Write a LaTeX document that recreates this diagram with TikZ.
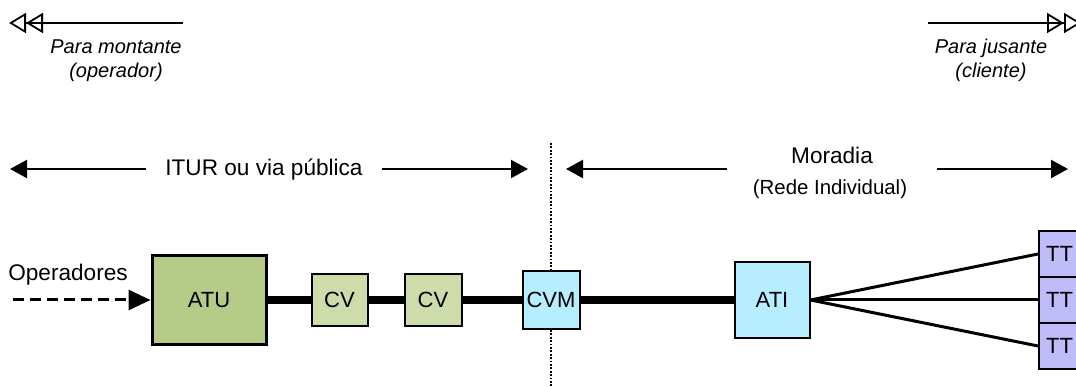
\documentclass[tikz,border=0pt]{standalone}
\usepackage{fontspec}
\setmainfont{Liberation Sans}
\usetikzlibrary{arrows.meta}
\definecolor{atuc}{RGB}{183,203,136}
\definecolor{cvc}{RGB}{205,220,170}
\definecolor{cyanc}{RGB}{183,238,255}
\definecolor{ttc}{RGB}{192,188,250}
\begin{document}
\begin{tikzpicture}[x=1pt,y=-1pt,
  lbl/.style={font=\fontsize{22.6}{26}\selectfont, inner sep=0pt, anchor=base},
  sml/.style={font=\fontsize{20.4}{24}\selectfont, inner sep=0pt, anchor=base},
  itl/.style={font=\fontsize{20}{24}\selectfont\itshape, inner sep=0pt, anchor=base},
  box/.style={draw=black, line width=2pt, inner sep=0pt, font=\fontsize{22}{26}\selectfont},
  dbl/.style={line width=1.8pt, -{Triangle[open,length=17pt,width=20pt]Triangle[open,length=17pt,width=20pt]}},
  span/.style={line width=2.2pt, -{Triangle[length=17pt,width=18pt]}},
  bus/.style={line width=8pt},
  fan/.style={line width=3pt},
]
\useasboundingbox (0,0) rectangle (1076,387);

% top direction arrows
\coordinate (ua) at (183,23);
\coordinate (ub) at (9,23);
\draw[dbl] (ua) -- (ub);
\node[itl] (pm) at (116,54) {Para montante};
\node[itl] (po) at (116,78) {(operador)};

\coordinate (da) at (928,23);
\coordinate (db) at (1081,23);
\draw[dbl] (da) -- (db);
\node[itl] (pj) at (991,54) {Para jusante};
\node[itl] (pc) at (991,78) {(cliente)};

% zone arrows
\coordinate (i1) at (146,169);
\coordinate (i2) at (10,169);
\coordinate (i3) at (382,169);
\coordinate (i4) at (528,169);
\draw[span] (i1) -- (i2);
\draw[span] (i3) -- (i4);
\node[lbl] (itur) at (264,176) {ITUR ou via pública};

\coordinate (m1) at (727,169);
\coordinate (m2) at (566,169);
\coordinate (m3) at (937,169);
\coordinate (m4) at (1068,169);
\draw[span] (m1) -- (m2);
\draw[span] (m3) -- (m4);
\node[lbl] (mor) at (832,164) {Moradia};
\node[sml] (rede) at (830,195) {(Rede Individual)};

% dotted separator
\coordinate (s1) at (551,143);
\coordinate (s2) at (551,390);
\draw[line width=1.8pt, dash pattern=on 1.8pt off 1.6pt] (s1) -- (s2);

% boxes
\node[box, fill=atuc, line width=3pt, minimum width=114pt, minimum height=88pt] (atu) at (209,300) {ATU};
\node[box, fill=cvc, minimum width=56pt, minimum height=51pt] (cv1) at (339.5,300) {CV};
\node[box, fill=cvc, minimum width=57pt, minimum height=51pt] (cv2) at (433,300) {CV};
\node[box, fill=cyanc, minimum width=57pt, minimum height=57pt] (cvm) at (551,300) {CVM};
\node[box, fill=cyanc, minimum width=75pt, minimum height=76pt] (ati) at (772,300) {ATI};
\node[box, fill=ttc, minimum width=41pt, minimum height=46pt] (tt1) at (1059.5,254) {TT};
\node[box, fill=ttc, minimum width=41pt, minimum height=46pt] (tt2) at (1059.5,300) {TT};
\node[box, fill=ttc, minimum width=41pt, minimum height=46pt] (tt3) at (1059.5,346) {TT};

% bus
\draw[bus] (atu.east) -- (cv1.west);
\draw[bus] (cv1.east) -- (cv2.west);
\draw[bus] (cv2.east) -- (cvm.west);
\draw[bus] (cvm.east) -- (ati.west);

% fan
\draw[fan] (ati.east) -- (tt1.west);
\draw[fan] (ati.east) -- (tt2.west);
\draw[fan] (ati.east) -- (tt3.west);

% operators
\node[lbl] (op) at (68,280) {Operadores};
\coordinate (o1) at (13,300);
\draw[line width=3pt, dash pattern=on 11pt off 6pt, -{Triangle[length=22pt,width=20pt]}] (o1) -- (atu.west);
\end{tikzpicture}
\end{document}
